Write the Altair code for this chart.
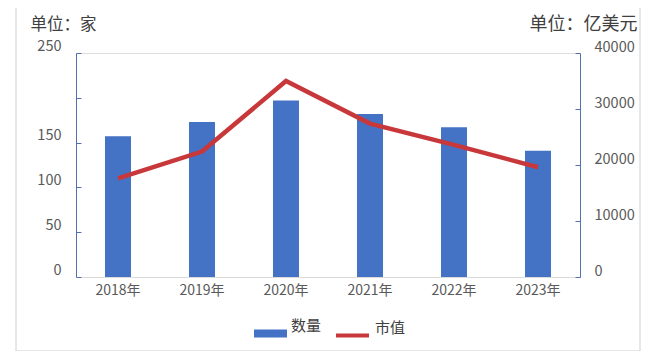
import altair as alt
import pandas as pd

years = ["2018年", "2019年", "2020年", "2021年", "2022年", "2023年"]
counts = [157, 173, 197, 182, 167, 141]
market_value = [17600, 22400, 35000, 27400, 23600, 19600]
left_ticks = [0, 50, 100, 150, 200, 250]
right_ticks = [0, 10000, 20000, 30000, 40000]

df = pd.DataFrame({"year": years, "count": counts, "value": market_value,
                   "s1": ["数量"] * 6, "s2": ["市值"] * 6})

FONT = "'Noto Sans CJK SC', 'Noto Sans'"
BLUE = "#4472C4"
RED = "#C8383B"
AXIS_BLUE = "#5370B0"
GRAY_TXT = "#595959"

x_enc = alt.X("year:N", sort=years, title=None,
              scale=alt.Scale(paddingInner=0, paddingOuter=0),
              axis=alt.Axis(domainColor="#D9D9D9", ticks=False, labelAngle=0, zindex=1,
                            labelFontSize=14, labelColor=GRAY_TXT, labelPadding=6,
                            labelFont=FONT))

frame = alt.Chart(pd.DataFrame({"a": [0]})).mark_rect(
    fillOpacity=0, stroke="#D0D0D0", strokeWidth=1
).encode(x=alt.value(-60), x2=alt.value(564), y=alt.value(-48), y2=alt.value(298))

base = alt.Chart(df)

bars = base.mark_bar(size=26).encode(
    x=x_enc,
    y=alt.Y("count:Q", scale=alt.Scale(domain=[0, 250], nice=False),
            axis=alt.Axis(orient="left", values=left_ticks, ticks=False, grid=False, zindex=1,
                          domainColor=AXIS_BLUE, labelFontSize=14.5, labelColor=GRAY_TXT,
                          labelPadding=15, labelOffset=-7, labelFont=FONT,
                          labelExpr="datum.value == 200 ? '' : datum.label",
                          title="单位：家", titleAngle=0, titleX=-46, titleY=-29,
                          titleAlign="left", titleBaseline="middle", titleFontSize=16.5,
                          titleFontWeight="normal", titleColor="#404040", titleFont=FONT)),
    color=alt.Color("s1:N", scale=alt.Scale(domain=["数量"], range=[BLUE]),
                    legend=alt.Legend(orient="none", legendX=178, legendY=264, title=None,
                                      symbolType="M-1,-0.24H1V0.24H-1Z", symbolSize=1089,
                                      symbolStrokeWidth=0, labelFontSize=15, labelColor="#404040",
                                      labelFont=FONT, labelBaseline="bottom", labelOffset=4)),
)

left_ticks_layer = base.mark_bar(opacity=0).encode(
    x=x_enc,
    y=alt.Y("count:Q", scale=alt.Scale(domain=[0, 250], nice=False),
            axis=alt.Axis(orient="right", offset=-504, values=left_ticks, labels=False, zindex=1,
                          domain=False, grid=False, tickSize=5, tickColor=AXIS_BLUE, title=None)),
)

line = base.mark_line(strokeWidth=4.5).encode(
    x=x_enc,
    y=alt.Y("value:Q", scale=alt.Scale(domain=[0, 40000], nice=False),
            axis=alt.Axis(orient="right", values=right_ticks, ticks=False, grid=False, zindex=1,
                          domainColor=AXIS_BLUE, labelFontSize=14.5, labelColor=GRAY_TXT,
                          labelPadding=14, labelOffset=-6, labelFont=FONT, format="d",
                          title="单位：亿美元", titleAngle=0, titleX=57, titleY=-29,
                          titleAlign="right", titleBaseline="middle", titleFontSize=18,
                          titleFontWeight="normal", titleColor="#404040", titleFont=FONT)),
    stroke=alt.Stroke("s2:N", scale=alt.Scale(domain=["市值"], range=[RED]),
                      legend=alt.Legend(orient="none", legendX=258, legendY=264, title=None,
                                        symbolType="stroke", symbolSize=1089,
                                        symbolStrokeWidth=4, labelFontSize=15, labelColor="#404040",
                                        labelFont=FONT, labelBaseline="bottom", labelOffset=4)),
)

right_ticks_layer = base.mark_line(opacity=0).encode(
    x=x_enc,
    y=alt.Y("value:Q", scale=alt.Scale(domain=[0, 40000], nice=False),
            axis=alt.Axis(orient="left", offset=-504, values=right_ticks, labels=False, zindex=1,
                          domain=False, grid=False, tickSize=5, tickColor=AXIS_BLUE, title=None)),
)

chart = alt.layer(frame, bars, left_ticks_layer, line, right_ticks_layer).resolve_scale(
    y="independent", color="independent"
).properties(
    width=504, height=224,
    autosize=alt.AutoSizeParams(type="none"),
    padding={"left": 68, "top": 45, "right": 62, "bottom": 74},
).configure_view(stroke=None).configure(background="white")

chart.save("out.html", embed_options={"renderer": "svg", "actions": False})
